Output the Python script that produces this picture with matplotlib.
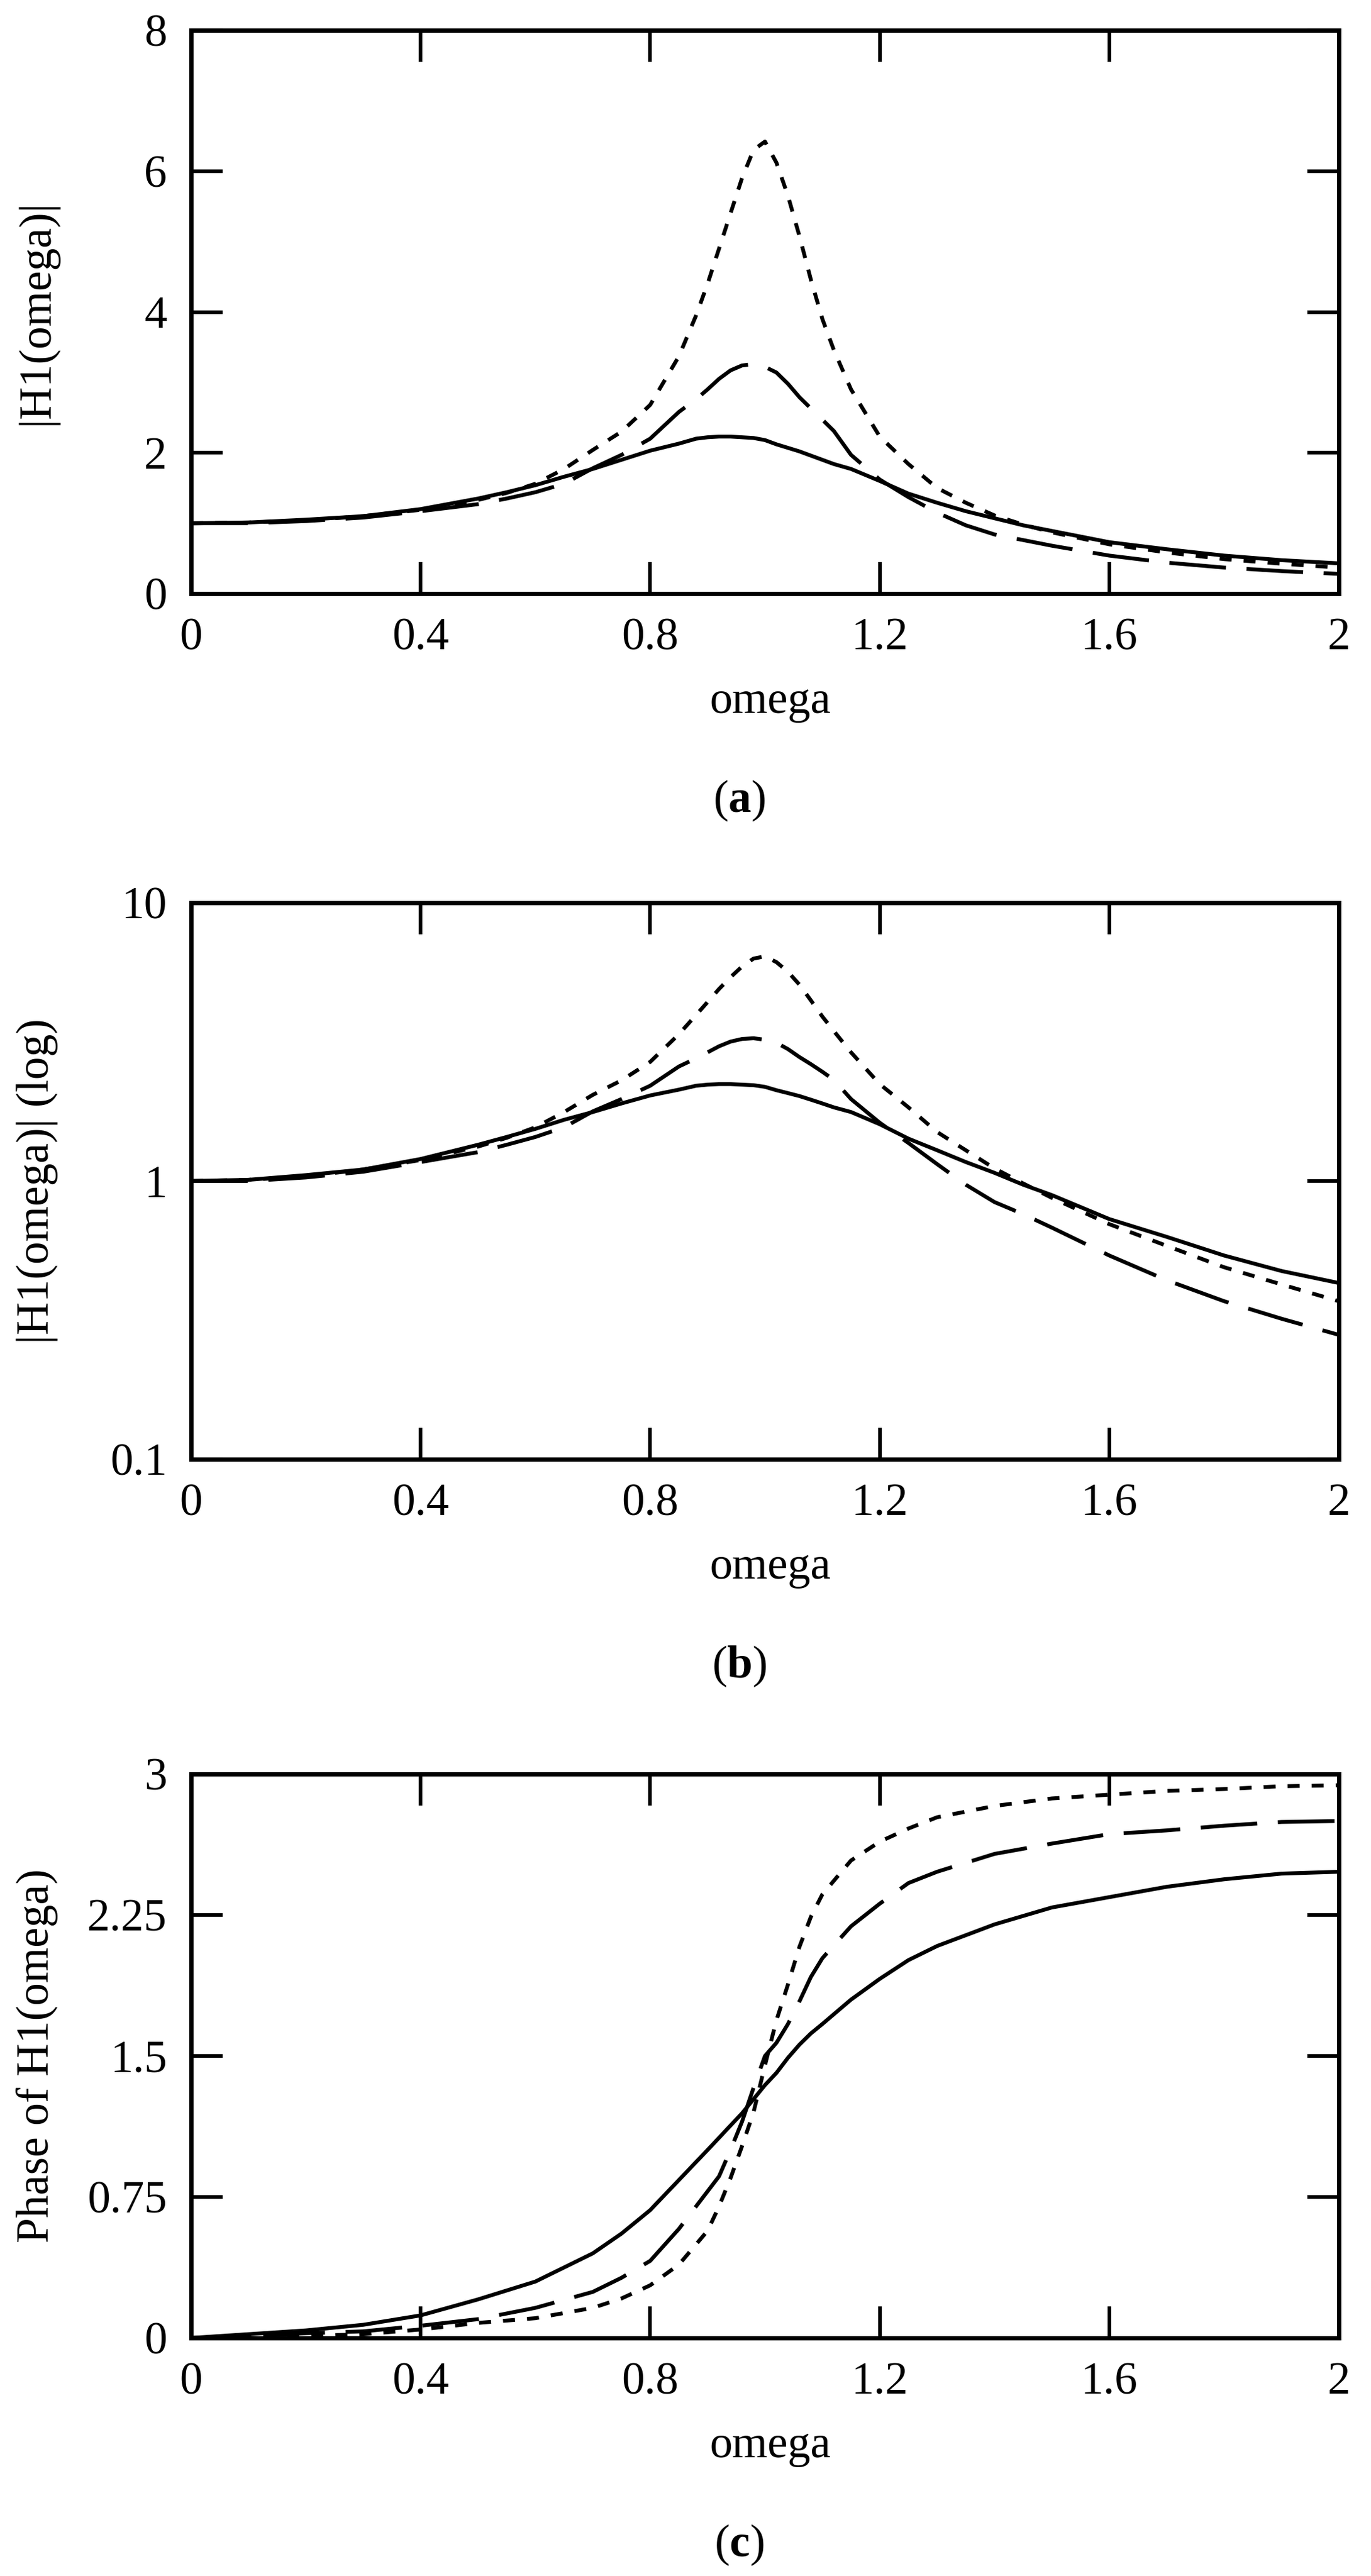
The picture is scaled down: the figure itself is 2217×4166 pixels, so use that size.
import matplotlib
matplotlib.use("Agg")
from matplotlib import pyplot as plt

# frequency grid and |H1| readings for the three damping cases
omega_mag = [0, 0.1, 0.2, 0.3, 0.4, 0.5, 0.55, 0.6, 0.65, 0.7, 0.75, 0.8, 0.85, 0.88,
             0.9, 0.92, 0.94, 0.96, 0.98, 1.0, 1.02, 1.04, 1.06, 1.08, 1.1, 1.12, 1.15,
             1.2, 1.25, 1.3, 1.35, 1.4, 1.45, 1.5, 1.6, 1.7, 1.8, 1.9, 2.0]
mag_solid = [1.0, 1.01, 1.05, 1.1, 1.2, 1.35, 1.44, 1.54, 1.66, 1.77, 1.9, 2.03, 2.13, 2.2,
             2.22, 2.23, 2.23, 2.22, 2.21, 2.18, 2.12, 2.07, 2.02, 1.96, 1.9, 1.84, 1.77,
             1.6, 1.42, 1.29, 1.17, 1.07, 0.97, 0.89, 0.73, 0.63, 0.54, 0.475, 0.43]
mag_dashed = [1.0, 1.0, 1.03, 1.08, 1.17, 1.27, 1.35, 1.44, 1.56, 1.78, 1.97, 2.2, 2.58, 2.76,
              2.9, 3.05, 3.17, 3.24, 3.26, 3.22, 3.14, 2.98, 2.79, 2.63, 2.47, 2.31, 1.97,
              1.62, 1.37, 1.15, 0.97, 0.84, 0.76, 0.68, 0.54, 0.44, 0.37, 0.32, 0.28]
mag_dotted = [1.0, 1.01, 1.04, 1.1, 1.19, 1.33, 1.43, 1.56, 1.77, 2.04, 2.3, 2.68, 3.37, 3.95,
              4.4, 4.9, 5.4, 5.9, 6.3, 6.42, 6.12, 5.65, 5.08, 4.46, 3.9, 3.46, 2.9,
              2.23, 1.84, 1.5, 1.29, 1.11, 0.98, 0.87, 0.7, 0.585, 0.49, 0.425, 0.37]

# phase readings
omega_ph = [0, 0.1, 0.2, 0.3, 0.4, 0.5, 0.6, 0.7, 0.75, 0.8, 0.85, 0.9, 0.92, 0.94, 0.96,
            0.98, 1.0, 1.02, 1.04, 1.06, 1.08, 1.1, 1.15, 1.2, 1.25, 1.3, 1.4, 1.5, 1.6,
            1.7, 1.8, 1.9, 2.0]
ph_solid = [0.0, 0.02, 0.04, 0.07, 0.12, 0.205, 0.3, 0.45, 0.555, 0.68, 0.84, 1.0, 1.065,
            1.13, 1.195, 1.27, 1.345, 1.41, 1.49, 1.56, 1.62, 1.67, 1.8, 1.91, 2.01, 2.085,
            2.2, 2.29, 2.345, 2.4, 2.44, 2.47, 2.48]
ph_dashed = [0.0, 0.01, 0.025, 0.035, 0.065, 0.1, 0.16, 0.245, 0.32, 0.41, 0.58, 0.78, 0.86,
             1.0, 1.15, 1.33, 1.5, 1.57, 1.67, 1.79, 1.92, 2.02, 2.19, 2.31, 2.42, 2.48,
             2.575, 2.63, 2.68, 2.7, 2.725, 2.745, 2.75]
ph_dotted = [0.0, 0.005, 0.01, 0.02, 0.045, 0.08, 0.105, 0.16, 0.21, 0.28, 0.39, 0.57, 0.7,
             0.85, 1.02, 1.2, 1.45, 1.69, 1.88, 2.08, 2.24, 2.36, 2.54, 2.64, 2.71, 2.77,
             2.83, 2.87, 2.89, 2.91, 2.92, 2.935, 2.94]

x_ticks = [0, 0.4, 0.8, 1.2, 1.6, 2]
x_ticklabels = ["0", "0.4", "0.8", "1.2", "1.6", "2"]

plt.rcParams['font.family'] = ['Liberation Serif', 'DejaVu Serif']
plt.rcParams['mathtext.fontset'] = 'custom'
plt.rcParams['mathtext.rm'] = 'Liberation Serif'
plt.rcParams['mathtext.bf'] = 'Liberation Serif:bold'
plt.rcParams['lines.scale_dashes'] = False

FS = 53
W, H = 2217, 4166
fig = plt.figure(figsize=(W / 100, H / 100), dpi=100)

left, right = 309, 2165
# (top, bottom) of each frame in pixels
frames = [(49, 960), (1460, 2360), (2869, 3781)]


def make_axes(top, bottom):
    ax = fig.add_axes([left / W, 1 - bottom / H, (right - left) / W, (bottom - top) / H])
    for s in ax.spines.values():
        s.set_linewidth(5)
    ax.tick_params(direction='in', length=37, width=4.2, top=True, right=True,
                   labelsize=FS, pad=28)
    ax.tick_params(which='minor', length=0)
    ax.set_xlim(0, 2)
    ax.set_xticks(x_ticks)
    ax.set_xticklabels(x_ticklabels)
    return ax


def draw(ax, x, ys):
    ax.plot(x, ys[0], color='black', lw=4.5, linestyle='-')
    ax.plot(x, ys[1], color='black', lw=4.5, linestyle=(0, (66, 24)))
    ax.plot(x, ys[2], color='black', lw=4.5, linestyle=(0, (14, 14)))


def labels(ax, top, bottom, ylabel, tag):
    fig.text(1245 / W, 1 - (bottom + 193) / H, "omega", fontsize=FS,
             ha='center', va='baseline')
    fig.text(1195 / W, 1 - (bottom + 335) / H, r"($\mathbf{" + tag + "}$)", fontsize=FS,
             ha='center', va='center')
    fig.text(60 / W, 1 - (top + bottom) / 2 / H, ylabel, fontsize=FS, rotation=90,
             ha='center', va='center')


# (a) linear magnitude
ax = make_axes(*frames[0])
draw(ax, omega_mag, [mag_solid, mag_dashed, mag_dotted])
ax.set_ylim(0, 8)
ax.set_yticks([0, 2, 4, 6, 8])
ax.set_yticklabels(["0", "2", "4", "6", "8"])
labels(ax, *frames[0], "|H1(omega)|", "a")

# (b) log magnitude
ax = make_axes(*frames[1])
draw(ax, omega_mag, [mag_solid, mag_dashed, mag_dotted])
ax.set_yscale('log')
ax.set_ylim(0.1, 10)
ax.set_yticks([0.1, 1, 10])
ax.set_yticklabels(["0.1", "1", "10"])
ax.tick_params(which='minor', length=0)
labels(ax, *frames[1], "|H1(omega)| (log)", "b")

# (c) phase
ax = make_axes(*frames[2])
draw(ax, omega_ph, [ph_solid, ph_dashed, ph_dotted])
ax.set_ylim(0, 3)
ax.set_yticks([0, 0.75, 1.5, 2.25, 3])
ax.set_yticklabels(["0", "0.75", "1.5", "2.25", "3"])
labels(ax, *frames[2], "Phase of H1(omega)", "c")

fig.savefig("out.png", dpi=100)
